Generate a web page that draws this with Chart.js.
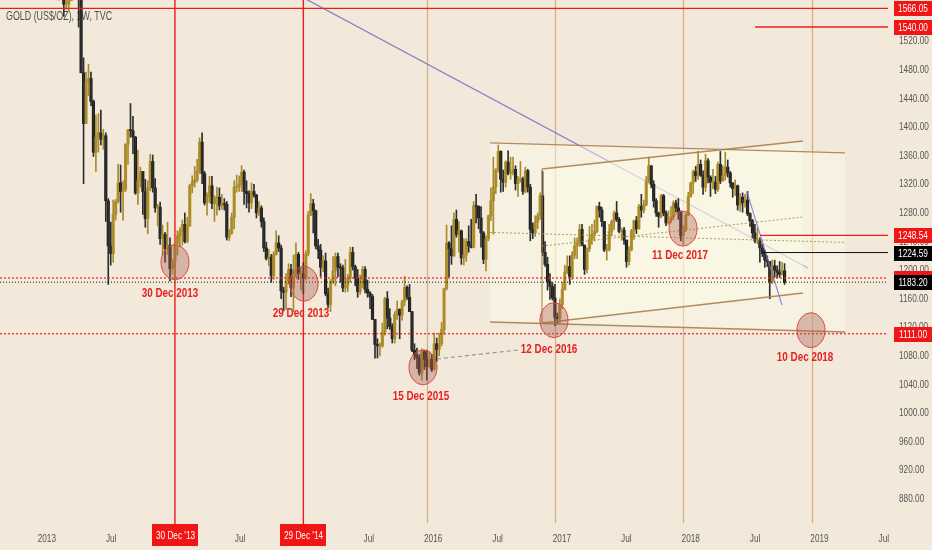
<!DOCTYPE html>
<html>
<head>
<meta charset="utf-8">
<script src="https://cdn.jsdelivr.net/npm/chart.js@4.4.1/dist/chart.umd.min.js"></script>
<style>
  html, body { margin: 0; padding: 0; background: #f2e9db; }
  #wrap { width: 932px; height: 550px; }
</style>
</head>
<body>
<div id="wrap"><canvas id="goldChart" width="932" height="550"></canvas></div>
<script>
// weekly candles, one per Monday starting here; open = previous close
var firstWeek = '2013-01-07'
var firstOpen = 1656

var highs = [
  // 2013
  1680,1695,1697,1685, 1685,1681,1612,1619, 1590,1597,1616,1611, 1604,1588,1497,1477,1488,
  1477,1438,1417,1419, 1424,1397,1392,1300, 1267,1298,1299,1348,1347, 1325,1377,1397,1433,
  1415,1387,1368,1344,1337, 1327,1325,1362,1361, 1328,1292,1295,1263, 1253,1267,1245,1215,1239,
  // 2014
  1255,1259,1270,1280, 1274,1320,1332,1345, 1355,1385,1392,1338,1308, 1331,1331,1304,1316,
  1315,1306,1300,1296, 1257,1280,1325,1333,1332, 1346,1340,1325,1311, 1322,1320,1306,1296,
  1290,1273,1239,1229,1222, 1226,1255,1248,1235, 1176,1195,1209,1208, 1221,1238,1225,1204,1210,
  // 2015
  1227,1282,1307,1299, 1284,1243,1236,1220, 1224,1175,1187,1219,1224, 1224,1209,1207,1215,
  1194,1232,1232,1207, 1201,1193,1205,1205,1186, 1170,1166,1131,1104, 1098,1126,1162,1170,1146,
  1125,1142,1157,1146, 1158,1191,1178,1180, 1142,1097,1091,1082,1090, 1088,1088,1086,1082,
  // 2016
  1112,1105,1112,1127, 1175,1263,1240,1262,1280, 1284,1268,1256,1244, 1244,1262,1271,1296,
  1306,1290,1289,1254,1248, 1277,1315,1358,1342, 1375,1367,1340,1353, 1367,1358,1358,1346,1331,
  1352,1330,1344,1341, 1320,1266,1276,1280,1308, 1338,1240,1218,1195, 1182,1180,1140,1160,
  // 2017
  1183,1207,1220,1220,1226, 1245,1245,1264,1264, 1235,1231,1261,1264, 1270,1290,1295,1288,
  1268,1236,1264,1270,1283, 1296,1274,1259,1260, 1242,1233,1257,1270,1275, 1292,1306,1298,1331,
  1358,1346,1325,1300, 1281,1306,1306,1283,1283, 1289,1297,1298,1300, 1283,1262,1279,1309,
  // 2018
  1323,1340,1345,1366,1354, 1339,1362,1356,1332, 1341,1331,1351,1366, 1346,1365,1354,1338,1322,
  1326,1319,1307,1308, 1306,1310,1280,1271, 1264,1259,1245,1236,1228, 1220,1212,1214,1214,
  1206,1212,1211,1209
]

var lows = [
  // 2013
  1646,1657,1652,1654, 1656,1597,1555,1565, 1562,1577,1590,1589, 1540,1476,1321,1406,1444,
  1430,1359,1338,1365, 1375,1369,1268,1180, 1207,1211,1270,1294,1281, 1270,1310,1348,1386,
  1363,1306,1292,1316,1278, 1260,1251,1311,1309, 1281,1262,1236,1221, 1211,1222,1185,1194,1182,
  // 2014
  1221,1232,1235,1238, 1238,1261,1308,1316, 1323,1335,1321,1291,1277, 1295,1286,1268,1277,
  1284,1285,1284,1242, 1241,1250,1258,1309,1310, 1310,1292,1287,1281, 1286,1302,1273,1276,
  1260,1226,1214,1206,1183, 1187,1221,1226,1160, 1143,1145,1180,1163, 1142,1190,1187,1172,1167,
  // 2015
  1186,1220,1276,1252, 1230,1216,1191,1198, 1164,1147,1142,1181,1178, 1191,1183,1170,1169,
  1170,1183,1200,1178, 1162,1166,1175,1168,1162, 1146,1131,1077,1077, 1080,1092,1109,1118,1117,
  1098,1098,1131,1104, 1130,1150,1159,1142, 1086,1075,1062,1053,1046, 1061,1046,1064,1058,
  // 2016
  1060,1072,1080,1094, 1110,1172,1191,1208,1219, 1246,1225,1208,1207, 1212,1225,1231,1231,
  1266,1258,1232,1209,1199, 1241,1269,1250,1307, 1337,1309,1310,1316, 1333,1327,1333,1312,1303,
  1323,1306,1308,1309, 1241,1244,1247,1258,1271, 1220,1205,1172,1159, 1158,1122,1124,1126,
  // 2017
  1146,1172,1195,1180,1187, 1216,1216,1233,1234, 1194,1196,1226,1236, 1241,1252,1274,1261,
  1226,1214,1227,1248,1257, 1268,1252,1242,1236, 1204,1207,1227,1243,1251, 1257,1274,1280,1290,
  1322,1315,1288,1275, 1260,1273,1276,1262,1264, 1266,1271,1281,1271, 1241,1236,1254,1276,
  // 2018
  1302,1307,1324,1327,1331, 1306,1310,1322,1303, 1314,1307,1310,1321, 1324,1326,1330,1316,1302,
  1304,1284,1282,1281, 1288,1276,1261,1245, 1238,1237,1211,1219,1204, 1205,1160,1181,1190,
  1189,1190,1193,1180
]

var closes = [
  // 2013
  1662,1687,1658,1667, 1667,1609,1572,1572, 1577,1592,1608,1598, 1579,1476,1405,1463,1468,
  1436,1365,1386,1392, 1383,1388,1297,1234, 1223,1278,1296,1322,1310, 1313,1376,1396,1395,
  1386,1308,1325,1338,1310, 1272,1315,1352,1315, 1287,1288,1244,1250, 1230,1235,1202,1212,1237,
  // 2014
  1248,1254,1264,1240, 1262,1318,1323,1326, 1339,1379,1335,1294,1303, 1318,1293,1301,1302,
  1290,1293,1292,1246, 1252,1274,1316,1316,1320, 1337,1310,1307,1294, 1310,1305,1280,1287,
  1268,1231,1216,1218,1192, 1222,1238,1231,1171, 1169,1185,1201,1175, 1191,1222,1195,1195,1189,
  // 2015
  1223,1277,1293,1283, 1234,1228,1204,1213, 1167,1152,1184,1199,1219, 1204,1203,1175,1179,
  1189,1225,1205,1189, 1170,1180,1201,1173,1168, 1163,1131,1096,1094, 1094,1113,1160,1133,1121,
  1104,1138,1145,1137, 1156,1176,1162,1142, 1088,1081,1077,1056,1086, 1075,1065,1075,1061,
  // 2016
  1097,1089,1097,1117, 1174,1238,1230,1220,1271, 1250,1255,1217,1221, 1240,1234,1232,1290,
  1289,1273,1252,1215,1244, 1276,1297,1316,1340, 1366,1327,1323,1351, 1335,1336,1341,1321,1327,
  1327,1310,1339,1316, 1257,1252,1267,1276,1304, 1225,1208,1184,1177, 1161,1134,1132,1152,
  // 2017
  1173,1197,1205,1191,1221, 1234,1238,1257,1235, 1201,1230,1243,1250, 1254,1289,1284,1268,
  1228,1228,1254,1268,1280, 1271,1254,1256,1242, 1212,1228,1255,1269,1258, 1289,1284,1291,1325,
  1346,1320,1297,1280, 1275,1304,1280,1266,1269, 1275,1294,1287,1281, 1248,1257,1277,1303,
  // 2018
  1322,1338,1332,1348,1333, 1316,1353,1330,1323, 1323,1313,1348,1325, 1332,1344,1336,1322,1314,
  1318,1291,1302,1294, 1298,1279,1269,1252, 1241,1241,1231,1223,1214, 1212,1184,1206,1200,
  1197,1194,1199,1183.2
]

// axis ticks
var timeTicks = [2013, 2013.5, 2014, 2014.5, 2015, 2015.5, 2016, 2016.5, 2017, 2017.5, 2018, 2018.5, 2019, 2019.5]
var timeLabels = ['2013', 'Jul', '2014', 'Jul', '2015', 'Jul', '2016', 'Jul', '2017', 'Jul', '2018', 'Jul', '2019', 'Jul']
var priceStep = 40
var viewTime = [2012.636, 2019.532]
var viewPrice = [847.7, 1577.8]

// drawings (time in decimal years, price in US$)
var redDays = [['2013-12-30', "30 Dec '13"], ['2014-12-29', "29 Dec '14"]]
var tanDays = ['2015-12-14', '2016-12-12', '2017-12-11', '2018-12-10']
var levels = [
  // price, starts at, kind, box text
  [1566.05, null, 'red', '1566.05'],
  [1540.00, 2018.50, 'red', '1540.00'],
  [1248.54, 2018.538, 'red', '1248.54'],
  [1224.59, 2018.562, 'black', '1224.59'],
  [1189.00, null, 'redDot', ''],
  [1183.20, null, 'blackDot', '1183.20'],
  [1111.00, null, 'redDot', '1111.00']
]
var flatChannel = { t: [2016.441, 2019.198], top: [1378, 1364], bottom: [1127.5, 1113.5] }
var risingChannel = { t: [2016.845, 2018.872], top: [1341.4, 1380.6], bottom: [1126, 1168] }
var bigTrend = [[2014.577, 1621], [2018.911, 1203]]
var steepTrend = [[2018.437, 1309], [2018.709, 1151]]
var dashedLink = [[2016.03, 1075.7], [2016.659, 1088.3]]
var circles = [[2013.995, 1211], [2014.997, 1181], [2015.921, 1064], [2016.938, 1130], [2017.94, 1258], [2018.934, 1116]]
var notes = [
  ['30 Dec 2013', 2013.956, 1168],
  ['29 Dec 2013', 2014.974, 1140],
  ['15 Dec 2015', 2015.905, 1024],
  ['12 Dec 2016', 2016.900, 1089],
  ['11 Dec 2017', 2017.917, 1221],
  ['10 Dec 2018', 2018.888, 1078]
]

var FONT = "'Liberation Sans', Arial, sans-serif"
var SQUEEZE = 0.75   // the screenshot's text is a narrow face
var BG = '#f2e9db'
var RED = '#ee1c1c'

function toYear(ms) {
  var d = new Date(ms)
  var y = d.getUTCFullYear()
  var s = Date.UTC(y, 0, 1), e = Date.UTC(y + 1, 0, 1)
  return y + (ms - s) / (e - s)
}
function dayYear(str) { return toYear(Date.parse(str + 'T00:00:00Z')) }

var wickData = [], bodyData = [], upFlags = []
var start = Date.parse(firstWeek + 'T00:00:00Z')
for (var i = 0; i < closes.length; i++) {
  var o = i === 0 ? firstOpen : closes[i - 1]
  var c = closes[i]
  var t = toYear(start + i * 7 * 864e5)
  wickData.push({ x: t, y: [Math.min(lows[i], o, c), Math.max(highs[i], o, c)] })
  bodyData.push({ x: t, y: [o, c] })
  upFlags.push(c >= o)
}

function line(ctx, a, b, color, width, dash) {
  ctx.save()
  ctx.strokeStyle = color
  ctx.lineWidth = width
  ctx.setLineDash(dash || [])
  ctx.beginPath()
  ctx.moveTo(a[0], a[1])
  ctx.lineTo(b[0], b[1])
  ctx.stroke()
  ctx.restore()
}

function narrowText(ctx, text, x, y, font, color, align, squeeze) {
  ctx.save()
  ctx.font = font
  ctx.fillStyle = color
  ctx.textAlign = align || 'center'
  ctx.textBaseline = 'middle'
  ctx.translate(x, y)
  ctx.scale(squeeze || SQUEEZE, 1)
  ctx.fillText(text, 0, 0)
  ctx.restore()
}

var overlay = {
  id: 'overlay',
  beforeDraw: function (chart) {
    var ctx = chart.ctx
    ctx.save()
    ctx.fillStyle = BG
    ctx.fillRect(0, 0, chart.width, chart.height)
    ctx.restore()
  },
  beforeDatasetsDraw: function (chart) {
    var ctx = chart.ctx, xs = chart.scales.x, ys = chart.scales.y, area = chart.chartArea
    var P = function (t, p) { return [xs.getPixelForValue(t), ys.getPixelForValue(p)] }

    narrowText(ctx, 'GOLD (US$/OZ), 1W, TVC', 6, 17, '12px ' + FONT, '#4f4f4f', 'left', 0.74)

    // vertical markers
    tanDays.forEach(function (d) {
      var x = Math.round(xs.getPixelForValue(dayYear(d))) + 0.5
      line(ctx, [x, 0], [x, area.bottom + 1], 'rgba(214,160,104,0.85)', 1.2)
    })
    redDays.forEach(function (d) {
      var x = xs.getPixelForValue(dayYear(d[0]))
      line(ctx, [x, 0], [x, area.bottom + 2], RED, 1.4)
    })

    ctx.save()
    ctx.beginPath()
    ctx.rect(area.left, area.top, area.right - area.left, area.bottom - area.top)
    ctx.clip()
    line(ctx, P(bigTrend[0][0], bigTrend[0][1]), P(bigTrend[1][0], bigTrend[1][1]), 'rgba(112,100,196,0.85)', 1.2)

    ;[flatChannel, risingChannel].forEach(function (ch) {
      var a = P(ch.t[0], ch.top[0]), b = P(ch.t[1], ch.top[1])
      var c = P(ch.t[1], ch.bottom[1]), d = P(ch.t[0], ch.bottom[0])
      ctx.fillStyle = 'rgba(255,252,234,0.42)'
      ctx.beginPath()
      ctx.moveTo(a[0], a[1]); ctx.lineTo(b[0], b[1]); ctx.lineTo(c[0], c[1]); ctx.lineTo(d[0], d[1])
      ctx.closePath()
      ctx.fill()
    })
    ctx.restore()
  },
  afterDatasetsDraw: function (chart) {
    var ctx = chart.ctx, xs = chart.scales.x, ys = chart.scales.y, area = chart.chartArea
    var P = function (t, p) { return [xs.getPixelForValue(t), ys.getPixelForValue(p)] }
    var brown = 'rgba(168,128,80,0.9)'
    var olive = 'rgba(160,140,70,0.85)'

    ctx.save()
    ctx.beginPath()
    ctx.rect(area.left, area.top, area.right - area.left, area.bottom - area.top)
    ctx.clip()

    // flat channel
    var ch = flatChannel
    line(ctx, P(ch.t[0], ch.top[0]), P(ch.t[1], ch.top[1]), brown, 1.4)
    line(ctx, P(ch.t[0], ch.bottom[0]), P(ch.t[1], ch.bottom[1]), brown, 1.4)
    line(ctx, P(ch.t[0], (ch.top[0] + ch.bottom[0]) / 2), P(ch.t[1], (ch.top[1] + ch.bottom[1]) / 2), olive, 1, [2, 2])

    // rising channel
    ch = risingChannel
    line(ctx, P(ch.t[0], ch.top[0]), P(ch.t[1], ch.top[1]), brown, 1.4)
    line(ctx, P(ch.t[0], ch.bottom[0]), P(ch.t[1], ch.bottom[1]), brown, 1.4)
    line(ctx, P(ch.t[0], ch.top[0]), P(ch.t[0], ch.bottom[0]), brown, 1.2)
    line(ctx, P(ch.t[0], (ch.top[0] + ch.bottom[0]) / 2), P(ch.t[1], (ch.top[1] + ch.bottom[1]) / 2), olive, 1, [2, 2])

    line(ctx, P(steepTrend[0][0], steepTrend[0][1]), P(steepTrend[1][0], steepTrend[1][1]), 'rgba(120,110,210,0.8)', 1.2)
    line(ctx, P(dashedLink[0][0], dashedLink[0][1]), P(dashedLink[1][0], dashedLink[1][1]), 'rgba(140,140,140,0.9)', 1.2, [4, 3])

    // horizontal levels
    levels.forEach(function (lv) {
      var y = ys.getPixelForValue(lv[0])
      var x0 = lv[1] === null ? area.left : xs.getPixelForValue(lv[1])
      if (lv[2] === 'red') line(ctx, [x0, y], [area.right, y], RED, 1.4)
      if (lv[2] === 'black') line(ctx, [x0, y], [area.right, y], '#111', 1)
      if (lv[2] === 'redDot') line(ctx, [x0, y], [area.right, y], RED, 1.2, [2, 2])
      if (lv[2] === 'blackDot') line(ctx, [x0, y], [area.right, y], '#111', 1, [1, 2])
    })
    ctx.restore()

    // circles
    circles.forEach(function (c) {
      var p = P(c[0], c[1])
      ctx.save()
      ctx.beginPath()
      ctx.ellipse(p[0], p[1], 14, 17.5, 0, 0, Math.PI * 2)
      ctx.fillStyle = 'rgba(172,92,78,0.38)'
      ctx.fill()
      ctx.strokeStyle = '#dc4a42'
      ctx.lineWidth = 1
      ctx.stroke()
      ctx.restore()
    })

    // notes
    notes.forEach(function (n) {
      var p = P(n[1], n[2])
      narrowText(ctx, n[0], p[0], p[1], 'bold 13px ' + FONT, '#e3231f', 'center', 0.76)
    })
  },
  afterDraw: function (chart) {
    var ctx = chart.ctx, xs = chart.scales.x, ys = chart.scales.y, area = chart.chartArea
    var tickFont = '11px ' + FONT

    // axis labels from the library's own ticks
    xs.ticks.forEach(function (tk, i) {
      narrowText(ctx, timeLabels[i], xs.getPixelForValue(tk.value), area.bottom + 17, tickFont, '#555')
    })
    ys.ticks.forEach(function (tk) {
      narrowText(ctx, tk.value.toFixed(2), area.right + 11, ys.getPixelForValue(tk.value), tickFont, '#555', 'left')
    })

    // price boxes
    var boxLeft = area.right + 6
    levels.forEach(function (lv) {
      var y = Math.round(ys.getPixelForValue(lv[0]))
      var col = (lv[2] === 'black' || lv[2] === 'blackDot') ? '#000' : '#f01616'
      ctx.fillStyle = col
      ctx.fillRect(boxLeft, y - 7, chart.width - boxLeft, 15)
      if (lv[3]) narrowText(ctx, lv[3], (boxLeft + chart.width) / 2, y + 0.5, tickFont, '#fff')
    })

    // date boxes
    redDays.forEach(function (d) {
      var x = Math.round(xs.getPixelForValue(dayYear(d[0])))
      ctx.fillStyle = '#f01616'
      ctx.fillRect(x - 23, area.bottom + 2, 46, 22)
      narrowText(ctx, d[1], x + 0.5, area.bottom + 14, tickFont, '#fff')
    })
  }
}

function noPad(s) { s.paddingTop = 0; s.paddingBottom = 0; s.paddingLeft = 0; s.paddingRight = 0 }

var ctx = document.getElementById('goldChart').getContext('2d')
var chart = new Chart(ctx, {
  type: 'bar',
  data: {
    datasets: [
      {
        label: 'wick',
        data: wickData,
        grouped: false,
        barThickness: 1,
        backgroundColor: upFlags.map(function (u) { return u ? '#a88a2e' : '#2e2e2e' })
      },
      {
        label: 'body',
        data: bodyData,
        grouped: false,
        barThickness: 2.5,
        minBarLength: 1,
        backgroundColor: upFlags.map(function (u) { return u ? '#b8962c' : '#1a1a1a' })
      }
    ]
  },
  options: {
    responsive: false,
    animation: false,
    events: [],
    layout: { padding: 0 },
    plugins: { legend: { display: false }, tooltip: { enabled: false } },
    scales: {
      x: {
        type: 'linear',
        min: viewTime[0],
        max: viewTime[1],
        offset: false,
        grid: { display: false, drawTicks: false },
        border: { display: false },
        afterBuildTicks: function (s) { s.ticks = timeTicks.map(function (v) { return { value: v } }) },
        afterFit: function (s) { s.height = 28; noPad(s) },
        ticks: { display: false, autoSkip: false, maxRotation: 0 }
      },
      y: {
        type: 'linear',
        position: 'right',
        min: viewPrice[0],
        max: viewPrice[1],
        grid: { display: false, drawTicks: false },
        border: { display: false },
        afterFit: function (s) { s.width = 44; noPad(s) },
        ticks: { display: false, stepSize: priceStep, includeBounds: false }
      }
    }
  },
  plugins: [overlay]
})
</script>
</body>
</html>
